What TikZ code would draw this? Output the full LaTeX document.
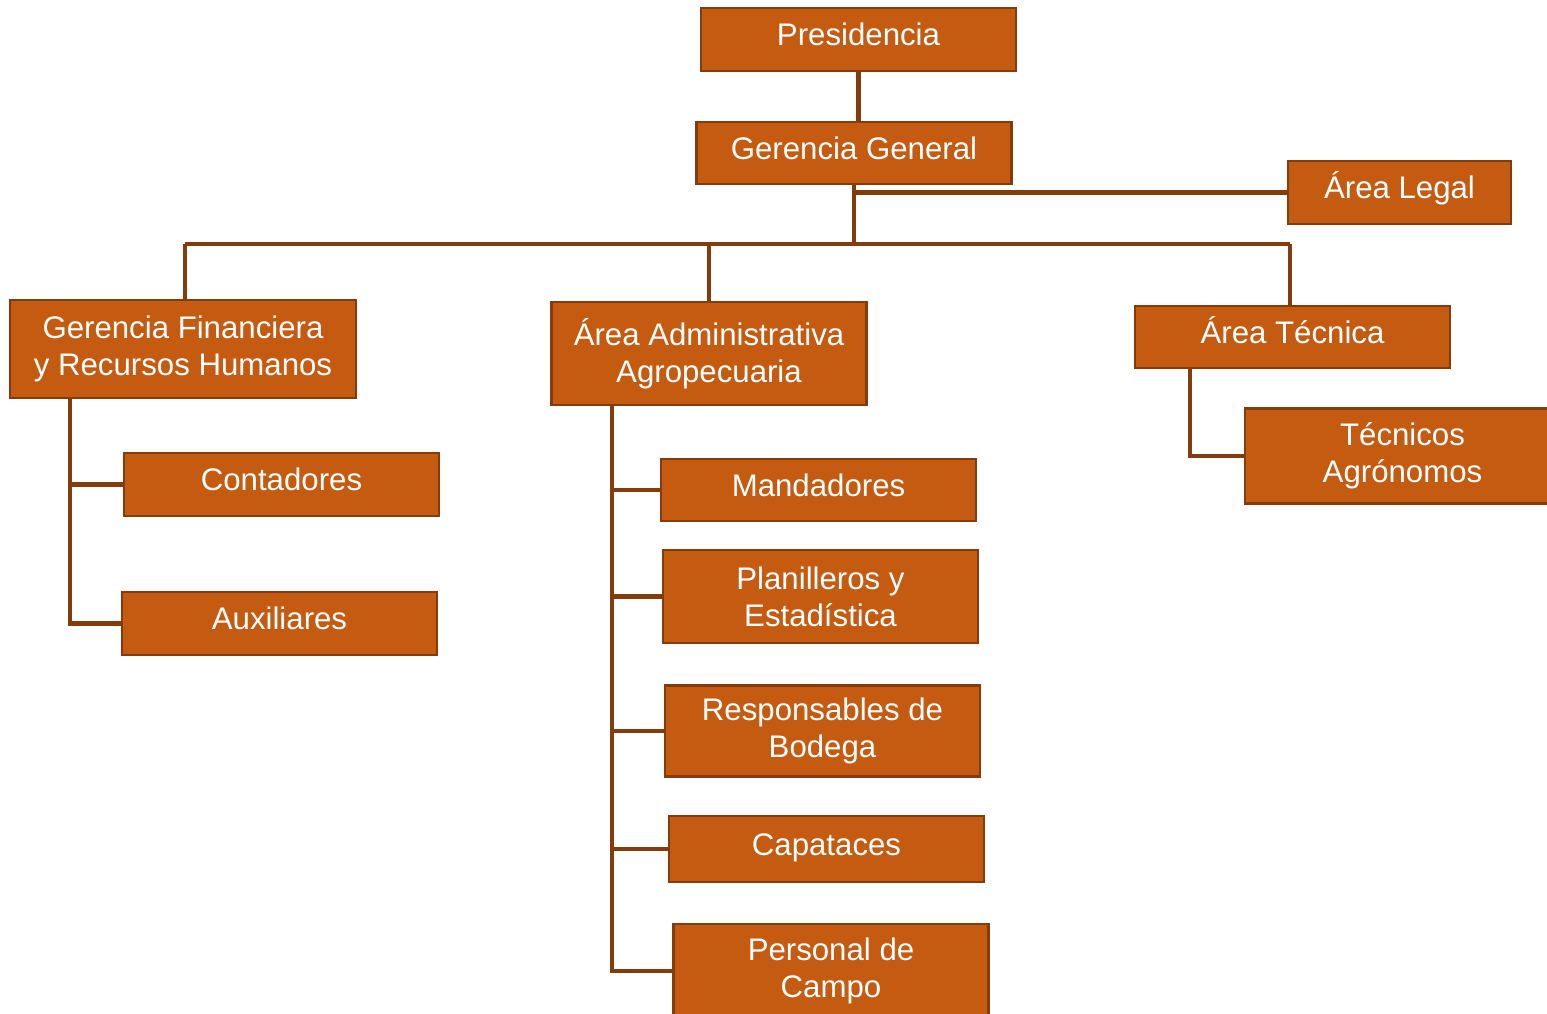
\documentclass[tikz,border=0pt]{standalone}
\usepackage{fontspec}
\setmainfont{Liberation Sans}
\definecolor{naranja}{HTML}{C55A11}
\definecolor{borde}{HTML}{843C0C}

\begin{document}
\begin{tikzpicture}[x=0.5pt,y=-0.5pt,
    cargo/.style={draw=borde,fill=naranja,line width=1.2pt,text=white,align=center,
      minimum width=157.5pt,inner sep=0pt,font=\fontsize{15.6}{18.5}\selectfont},
    una/.style={text height=0.8em,text depth=0.18em},
    linea/.style={draw=borde,line width=2.3pt}]
    \useasboundingbox (0,0) rectangle (1547,1013);
    % cajas
    \node[cargo,una,minimum height=31.5pt] (pres) at (858.5,39.5) {Presidencia};
    \node[cargo,una,minimum height=31pt] (gg) at (854,153) {Gerencia General};
    \node[cargo,una,minimum height=31.5pt,minimum width=111.5pt] (legal) at (1399.5,192.5) {Área Legal};
    \node[cargo,minimum height=49pt,minimum width=173pt] (gf) at (183,349) {Gerencia Financiera\\y Recursos Humanos};
    \node[cargo,minimum height=51.5pt] (aa) at (709,353.5) {Área Administrativa\\Agropecuaria};
    \node[cargo,una,minimum height=31pt] (at) at (1292.5,337) {Área Técnica};
    \node[cargo,minimum height=47.5pt] (tec) at (1402.5,456) {Técnicos\\Agrónomos};
    \node[cargo,una,minimum height=31.5pt] (cont) at (281.5,484.5) {Contadores};
    \node[cargo,una,minimum height=31.5pt] (aux) at (279.5,623.5) {Auxiliares};
    \node[cargo,una,minimum height=31pt] (mand) at (818.5,490) {Mandadores};
    \node[cargo,minimum height=46.5pt] (plan) at (820.5,596.5) {Planilleros y\\Estadística};
    \node[cargo,minimum height=45.5pt] (resp) at (822.5,731) {Responsables de\\Bodega};
    \node[cargo,una,minimum height=33pt] (capa) at (826.5,849) {Capataces};
    \node[cargo,minimum height=47pt] (pers) at (831,971) {Personal de\\Campo};
    % lineas
    \coordinate (bi) at (185,244);
    \coordinate (bd) at (1290,244);
    \coordinate (gfs) at (70,0);
    \coordinate (aas) at (612,0);
    \coordinate (ats) at (1190,0);
    \draw[linea] (pres.south) -- (pres.south |- gg.north);
    \draw[linea] (gg.south) -- (gg.south |- bi);
    \draw[linea] (gg.south |- legal.west) -- (legal.west);
    \draw[linea] (bi) -- (bd);
    \draw[linea] (bi) -- (bi |- gf.north);
    \draw[linea] (aa.north |- bi) -- (aa.north);
    \draw[linea] (bd) -- (bd |- at.north);
    \draw[linea] (gf.south -| gfs) -- (gfs |- aux.west) -- (aux.west);
    \draw[linea] (gfs |- cont.west) -- (cont.west);
    \draw[linea] (aa.south -| aas) -- (aas |- pers.west) -- (pers.west);
    \foreach \n in {mand,plan,resp,capa}
      \draw[linea] (aas |- \n.west) -- (\n.west);
    \draw[linea] (at.south -| ats) -- (ats |- tec.west) -- (tec.west);
\end{tikzpicture}
\end{document}
